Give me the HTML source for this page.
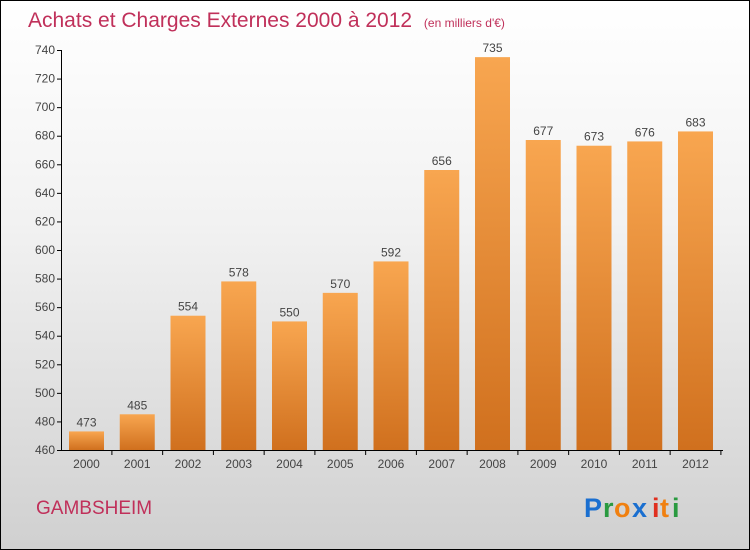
<!DOCTYPE html>
<html><head><meta charset="utf-8"><style>
body{margin:0}
#c{position:relative;width:748px;height:548px;border:1px solid #000;background:linear-gradient(#fff 0%,#f2f2f2 40%,#d0d0d0 100%);font-family:"Liberation Sans",sans-serif;overflow:hidden}
</style></head><body>
<div id="c">
<svg id="s" width="748" height="548" style="position:absolute;left:0;top:0">
<defs><linearGradient id="g" x1="0" y1="0" x2="0" y2="1"><stop offset="0" stop-color="#f8a650"/><stop offset="1" stop-color="#d0701e"/></linearGradient></defs>
<text x="27" y="26" font-size="21" fill="#c0305a">Achats et Charges Externes 2000 à 2012 <tspan font-size="12" dx="6">(en milliers d'€)</tspan></text>
<text x="35" y="513" font-size="19" fill="#c0305a">GAMBSHEIM</text>
<g font-size="27" font-weight="bold">
<text x="583" y="516" fill="#1a6fd0">P</text><text x="602" y="516" fill="#2a9a40">r</text><text x="613" y="516" fill="#f08010">o</text><text x="631" y="516" fill="#1a6fd0">x</text><text x="651" y="516" fill="#e03020">i</text><text x="659" y="516" fill="#f08010">t</text><text x="671" y="516" fill="#2a9a40">i</text></g>
<g id="ax"></g><g id="bars"></g>
</svg></div>
<script>
const years=["2000","2001","2002","2003","2004","2005","2006","2007","2008","2009","2010","2011","2012"];
const values=[473,485,554,578,550,570,592,656,735,677,673,676,683];
const ticks=[460,480,500,520,540,560,580,600,620,640,660,680,700,720,740];
const NS="http://www.w3.org/2000/svg";
const y=v=>449-(v-460)*400/280;
const x=i=>85.5+i*50.75;
const ax=document.getElementById('ax'),bg=document.getElementById('bars');
function mk(t,a,p,txt){const e=document.createElementNS(NS,t);for(const k in a)e.setAttribute(k,a[k]);if(txt!=null)e.textContent=txt;p.appendChild(e);return e;}
let l=mk('line',{x1:60.5,y1:y(740),x2:60.5,y2:449,stroke:'#000'},ax);


l=mk('line',{x1:60,y1:449.5,x2:722,y2:449.5,stroke:'#000'},ax);


ticks.forEach(t=>{mk('line',{x1:56,x2:61,y1:y(t)+.5,y2:y(t)+.5,stroke:'#000'},ax);
const e=mk('text',{x:54,y:y(t)+4,'font-size':12,fill:'#444','text-anchor':'end'},ax,t);

});
years.forEach((yr,i)=>{const v=values[i];
const r=mk('rect',{x:x(i)-17.5,y:y(v),width:35,height:449-y(v),fill:'url(#g)'},bg);


const t=mk('text',{x:x(i),y:y(v)-5,'font-size':12,fill:'#444','text-anchor':'middle'},bg,v);


mk('line',{x1:x(i)+25.4,x2:x(i)+25.4,y1:449,y2:454,stroke:'#000'},ax);
const xl=mk('text',{x:x(i),y:467,'font-size':12,fill:'#444','text-anchor':'middle'},ax,yr);

});
</script></body></html>
